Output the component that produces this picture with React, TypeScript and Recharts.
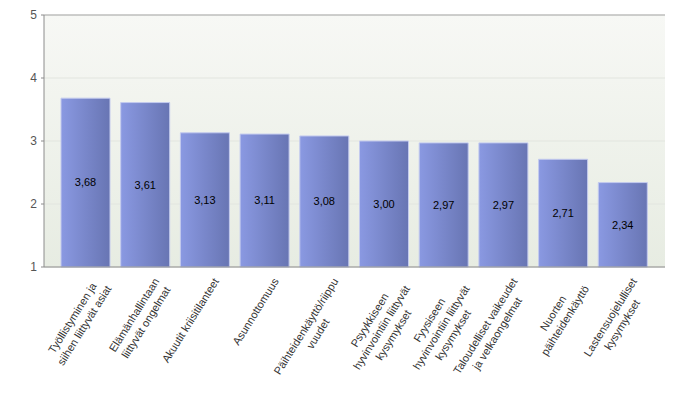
import React from "react";
import {
  Bar,
  BarChart,
  CartesianGrid,
  LabelList,
  ReferenceLine,
  XAxis,
  YAxis,
} from "recharts";

// category labels, split into the lines shown under the axis
const categoryLines: string[][] = [
  ["Työllistyminen ja", "siihen liittyvät asiat"],
  ["Elämänhallintaan", "liittyvät ongelmat"],
  ["Akuutit kriisitilanteet"],
  ["Asunnottomuus"],
  ["Päihteidenkäyttö/riippu", "vuudet"],
  ["Psyykkiseen", "hyvinvointiin liittyvät", "kysymykset"],
  ["Fyysiseen", "hyvinvointiin liittyvät", "kysymykset"],
  ["Taloudelliset vaikeudet", "ja velkaongelmat"],
  ["Nuorten", "päihteidenkäyttö"],
  ["Lastensuojelulliset", "kysymykset"],
];

const values = [3.68, 3.61, 3.13, 3.11, 3.08, 3.0, 2.97, 2.97, 2.71, 2.34];

const yTicks = [1, 2, 3, 4, 5];

const data = categoryLines.map((lines, i) => ({
  name: lines.join(" "),
  value: values[i],
}));

const LABEL_FONT = '11px "Liberation Sans", Arial, sans-serif';

let ctx: CanvasRenderingContext2D | null = null;
function textWidth(s: string) {
  if (!ctx) {
    ctx = document.createElement("canvas").getContext("2d");
  }
  if (!ctx) return s.length * 5.8;
  ctx.font = LABEL_FONT;
  return ctx.measureText(s).width;
}

// rotated, centred multi-line label, right end sits under the bar centre
function CategoryTick(props: any) {
  const { x, y, index } = props;
  const lines = categoryLines[index] || [];
  const maxW = Math.max(...lines.map(textWidth));
  return (
    <g transform={`translate(${x},${y}) rotate(-58)`}>
      {lines.map((line, i) => (
        <text
          key={i}
          x={-4.5 - maxW / 2}
          y={19.5 + i * 14}
          textAnchor="middle"
          fontSize={11}
          fontFamily='"Liberation Sans", Arial, sans-serif'
          fill="#333"
        >
          {line}
        </text>
      ))}
    </g>
  );
}

export default function App() {
  return (
    <div style={{ position: "absolute", left: 0, top: 0, background: "#fff" }}>
      <BarChart
        width={680}
        height={400}
        data={data}
        margin={{ top: 15, right: 15, left: 0, bottom: 0 }}
        barSize={49}
      >
        <defs>
          <linearGradient id="plotBg" x1="0" y1="0" x2="0" y2="1">
            <stop offset="0%" stopColor="#f7f8f5" />
            <stop offset="100%" stopColor="#e7ece2" />
          </linearGradient>
          <linearGradient id="barFill" x1="0" y1="0" x2="1" y2="0">
            <stop offset="0%" stopColor="#8a99e2" />
            <stop offset="100%" stopColor="#6875b3" />
          </linearGradient>
        </defs>
        <CartesianGrid
          vertical={false}
          stroke="#e2e5df"
          fill="url(#plotBg)"
        />
        <XAxis
          dataKey="name"
          interval={0}
          padding={{ left: 12, right: 12 }}
          tickSize={0}
          tickMargin={0}
          tick={<CategoryTick />}
          axisLine={{ stroke: "#8c8c8c" }}
          tickLine={false}
          height={133}
        />
        <YAxis
          domain={[1, 5]}
          ticks={yTicks}
          width={44}
          tickSize={3}
          tickMargin={4}
          tick={{
            fontSize: 12,
            fill: "#555",
            fontFamily: '"Liberation Sans", Arial, sans-serif',
          }}
          axisLine={{ stroke: "#8c8c8c" }}
          tickLine={{ stroke: "#8c8c8c" }}
        />
        <YAxis
          yAxisId="r"
          orientation="right"
          domain={[1, 5]}
          width={0}
          tick={false}
          tickLine={false}
          axisLine={{ stroke: "#aaaaaa" }}
        />
        <ReferenceLine y={5} stroke="#aaaaaa" />
        <Bar
          dataKey="value"
          fill="url(#barFill)"
          stroke="#c3caee"
          strokeWidth={1}
          isAnimationActive={false}
        >
          <LabelList
            dataKey="value"
            position="center"
            formatter={(v: any) => Number(v).toFixed(2).replace(".", ",")}
            style={{
              fontSize: 11,
              fill: "#000",
              fontFamily: '"Liberation Sans", Arial, sans-serif',
              fontWeight: 400,
            }}
          />
        </Bar>
      </BarChart>
    </div>
  );
}
